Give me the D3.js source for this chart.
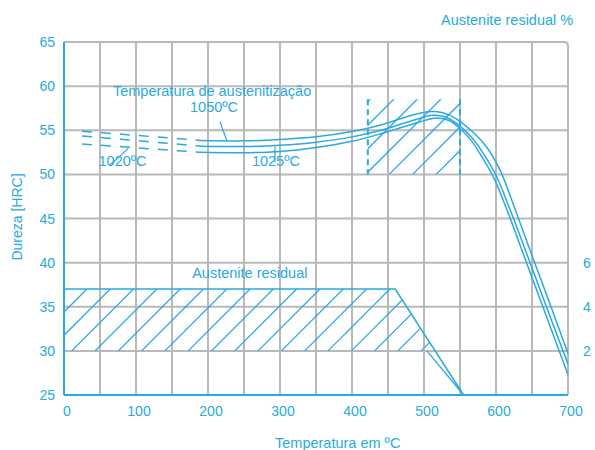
<!DOCTYPE html>
<html>
<head>
<meta charset="utf-8">
<script src="https://cdn.jsdelivr.net/npm/d3@7"></script>
<style>
  body { margin: 0; background: #fff; }
  svg text { font-family: "Liberation Sans", Arial, sans-serif; fill: #29a9e1; }
</style>
</head>
<body>
<svg id="chart" width="595" height="450"></svg>
<script>
"use strict";

// Data (temperature in ºC, hardness in HRC)
var xTicks = [0, 100, 200, 300, 400, 500, 600, 700];
var yTicks = [25, 30, 35, 40, 45, 50, 55, 60, 65];
var rightTicks = [2, 4, 6];

// dashed start of the three curves
var dash1050 = [[25, 54.9], [189, 53.85]];
var dash1025 = [[25, 54.35], [189, 53.2]];
var dash1020 = [[25, 53.45], [189, 52.5]];

var curve1050 = [[189, 53.85], [250, 53.8], [300, 53.95], [350, 54.25], [400, 54.85], [440, 55.6], [475, 56.5], [505, 57.1], [525, 57.0], [545, 56.3], [565, 55.0], [585, 53.3], [605, 50.6], [625, 46.4], [650, 40.8], [675, 35.3], [700, 29.7]];
var curve1025 = [[189, 53.2], [250, 53.15], [300, 53.3], [350, 53.65], [400, 54.25], [440, 55.0], [480, 56.0], [512, 56.7], [530, 56.5], [548, 55.6], [566, 54.2], [583, 52.3], [600, 49.9], [620, 45.9], [645, 40.5], [670, 35.0], [700, 28.5]];
var curve1020 = [[189, 52.5], [250, 52.45], [300, 52.6], [350, 53.05], [400, 53.75], [440, 54.6], [480, 55.6], [518, 56.4], [535, 56.1], [550, 55.2], [566, 53.8], [581, 51.9], [597, 49.6], [617, 45.6], [641, 40.3], [666, 34.8], [700, 27.3]];

// residual austenite band (outer and inner edge)
var bandOuter = [[0, 37], [460, 37], [555, 25]];
var bandInner = [[0, 30], [504, 30], [555, 25]];

// secondary hardness zone
var zoneX = [422, 550];
var zoneY = [50, 58.5];

// pointers for the temperature labels
var pointers = [
  [[216.7, 55.93], [226.4, 53.78]],
  [[63.9, 51.06], [89.3, 52.95]],
  [[293, 53.14], [293, 51.4]]
];

var labels = [
  { t: "Temperatura de austenitização", x: 68, y: 58.9 },
  { t: "1050ºC", x: 175, y: 57.1 },
  { t: "1020ºC", x: 48, y: 50.9 },
  { t: "1025ºC", x: 261, y: 50.9 },
  { t: "Austenite residual", x: 178, y: 38.3 }
];

var blue = "#29a9e1";
var grey = "#b9b9b9";

var svg = d3.select("#chart");
var x = d3.scaleLinear().domain([0, 700]).range([64, 568]);
var y = d3.scaleLinear().domain([25, 65]).range([395, 42]);
var yr = d3.scaleLinear().domain([0, 16]).range([395, 42]);

// grid
svg.append("g").selectAll("line").data(yTicks.filter(d => d > 25 && d < 65)).enter()
  .append("line")
  .attr("x1", x(0)).attr("x2", x(700))
  .attr("y1", d => y(d)).attr("y2", d => y(d))
  .style("stroke", grey).style("stroke-width", 2);

svg.append("g").selectAll("line").data(d3.range(50, 700, 50)).enter()
  .append("line")
  .attr("x1", d => x(d)).attr("x2", d => x(d))
  .attr("y1", y(25)).attr("y2", y(65))
  .style("stroke", grey).style("stroke-width", 2);

// top/right border with the rounded corner
svg.append("path")
  .attr("d", "M" + x(0) + "," + y(65) + " H" + (x(700) - 4) + " Q" + x(700) + "," + y(65) + " " + x(700) + "," + (y(65) + 4) + " V" + y(25))
  .style("fill", "none").style("stroke", grey).style("stroke-width", 2);

// clip paths for the hatching
var defs = svg.append("defs");
var pts = bandOuter.concat(bandInner.slice(0, 2).reverse());
defs.append("clipPath").attr("id", "clipBand")
  .append("polygon")
  .attr("points", pts.map(p => x(p[0]) + "," + y(p[1])).join(" "));
defs.append("clipPath").attr("id", "clipZone")
  .append("rect")
  .attr("x", x(zoneX[0])).attr("y", y(zoneY[1]))
  .attr("width", x(zoneX[1]) - x(zoneX[0])).attr("height", y(zoneY[0]) - y(zoneY[1]));

function hatch(clipId, x0, ybot, h, count, step) {
  svg.append("g").attr("clip-path", "url(#" + clipId + ")")
    .selectAll("line").data(d3.range(count)).enter()
    .append("line")
    .attr("x1", i => x0 + i * step).attr("y1", ybot)
    .attr("x2", i => x0 + i * step + h).attr("y2", ybot - h)
    .style("stroke", blue).style("stroke-width", 1.3);
}
hatch("clipBand", x(0) + 7.7 - 23.3 * 3, y(30), 80, 28, 23.3);
hatch("clipZone", x(zoneX[0]) + 21.3 - 23.5 * 4, y(zoneY[0]), 80, 10, 23.5);

// band outline
var line = d3.line().x(d => x(d[0])).y(d => y(d[1]));
svg.append("path").attr("d", line(bandOuter))
  .style("fill", "none").style("stroke", blue).style("stroke-width", 1.5);
svg.append("path").attr("d", line(bandInner.slice(1)))
  .style("fill", "none").style("stroke", blue).style("stroke-width", 1.3);

// zone dashed sides
svg.append("g").selectAll("line").data(zoneX).enter()
  .append("line")
  .attr("x1", d => x(d)).attr("x2", d => x(d))
  .attr("y1", y(zoneY[1])).attr("y2", y(zoneY[0]))
  .style("stroke", blue).style("stroke-width", 2)
  .style("stroke-dasharray", "6,4");

// hardness curves
var smooth = d3.line().x(d => x(d[0])).y(d => y(d[1])).curve(d3.curveCatmullRom);
[curve1050, curve1025, curve1020].forEach(function(c) {
  svg.append("path").attr("d", smooth(c))
    .style("fill", "none").style("stroke", blue).style("stroke-width", 1.5);
});
[dash1050, dash1025, dash1020].forEach(function(c) {
  svg.append("path").attr("d", line(c))
    .style("fill", "none").style("stroke", blue).style("stroke-width", 1.5)
    .style("stroke-dasharray", "10,9");
});

// pointers
pointers.forEach(function(p) {
  svg.append("path").attr("d", line(p))
    .style("fill", "none").style("stroke", blue).style("stroke-width", 1.2);
});

// axes (left and bottom in blue)
svg.append("line").attr("x1", x(0)).attr("x2", x(0)).attr("y1", y(65)).attr("y2", y(25))
  .style("stroke", blue).style("stroke-width", 2);
svg.append("line").attr("x1", x(0)).attr("x2", x(700)).attr("y1", y(25)).attr("y2", y(25))
  .style("stroke", blue).style("stroke-width", 2);

// tick labels
svg.append("g").selectAll("text").data(yTicks).enter()
  .append("text")
  .attr("x", 55).attr("y", d => y(d) + 5)
  .attr("text-anchor", "end").style("font-size", "14px")
  .text(d => d);
svg.append("g").selectAll("text").data(xTicks).enter()
  .append("text")
  .attr("x", d => x(d) + 3).attr("y", 416)
  .attr("text-anchor", "middle").style("font-size", "14px")
  .text(d => d);
svg.append("g").selectAll("text").data(rightTicks).enter()
  .append("text")
  .attr("x", 583).attr("y", d => yr(d) + 5)
  .style("font-size", "14px")
  .text(d => d);

// labels
labels.forEach(function(l) {
  svg.append("text").attr("x", x(l.x)).attr("y", y(l.y))
    .style("font-size", "14.5px").text(l.t);
});
svg.append("text").attr("x", 441).attr("y", 25).style("font-size", "14.5px").text("Austenite residual %");
svg.append("text").attr("x", 275).attr("y", 448).style("font-size", "14.5px").text("Temperatura em ºC");
svg.append("text").attr("transform", "translate(22,217) rotate(-90)")
  .attr("text-anchor", "middle").style("font-size", "14px").text("Dureza [HRC]");
</script>
</body>
</html>
